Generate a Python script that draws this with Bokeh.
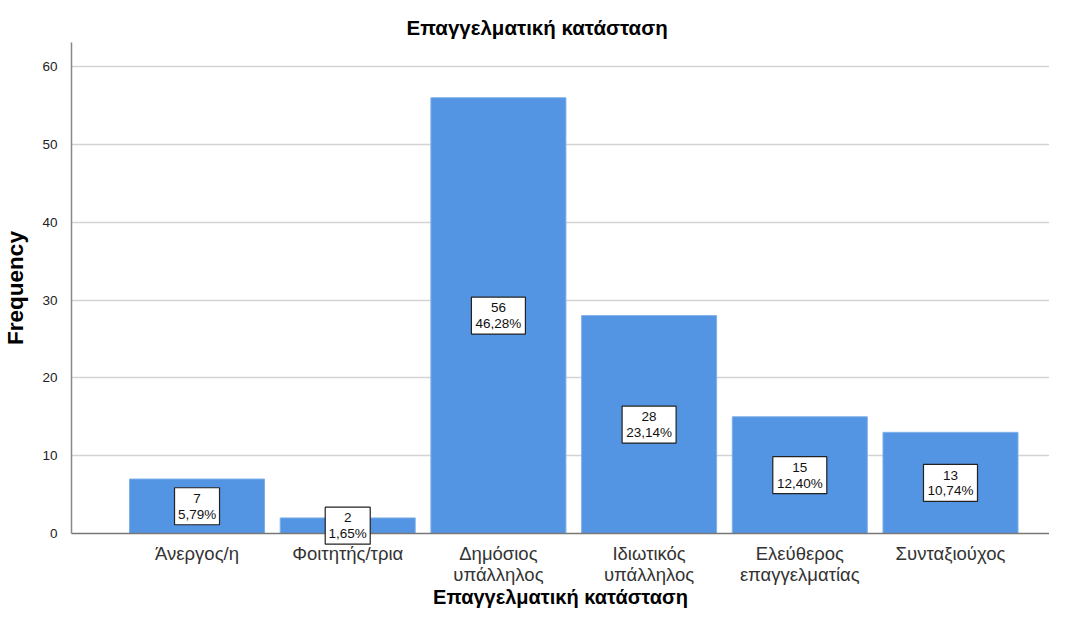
from bokeh.plotting import figure
from bokeh.models import Range1d, FixedTicker, ColumnDataSource
from bokeh.core.properties import value
from bokeh.embed import file_html
from bokeh.resources import INLINE

categories = ["Άνεργος/η", "Φοιτητής/τρια", "Δημόσιος\nυπάλληλος", "Ιδιωτικός\nυπάλληλος",
              "Ελεύθερος\nεπαγγελματίας", "Συνταξιούχος"]
counts = [7, 2, 56, 28, 15, 13]
percents = ["5,79%", "1,65%", "46,28%", "23,14%", "12,40%", "10,74%"]
y_ticks = [0, 10, 20, 30, 40, 50, 60]

FONT = "Liberation Sans"
xs = list(range(len(categories)))

p = figure(width=1049, height=610, output_backend="svg", toolbar_location=None,
           x_range=Range1d(-0.833, 5.657), y_range=Range1d(0, 63.1),
           min_border_left=0, min_border_right=0, min_border_top=0, min_border_bottom=0)

p.title.text = "Επαγγελματική κατάσταση"
p.title.text_font = FONT
p.title.text_font_size = "20.5px"
p.title.text_font_style = "bold"
p.title.align = "left"
p.title.offset = 335
p.title.padding = dict(left=0, right=0, top=9, bottom=0)
p.title.standoff = 8
p.title.text_color = "#000000"

p.outline_line_color = None
p.background_fill_color = "white"
p.border_fill_color = "white"

p.xgrid.grid_line_color = None
p.ygrid.grid_line_color = "#d3d3d3"
p.ygrid.grid_line_width = 1.5
p.ygrid.ticker = FixedTicker(ticks=y_ticks)

p.vbar(x=xs, top=counts, bottom=0, width=0.896,
       fill_color="#5394E3", line_color="#7fb0ea", line_width=1)

src = ColumnDataSource(dict(x=xs, mid=[c / 2 for c in counts],
                            lab=[f"{c}\n{pc}" for c, pc in zip(counts, percents)],
                            bw=[9 * max(len(str(c)), len(pc)) for c, pc in zip(counts, percents)]))
r1 = p.rect(x="x", y="mid", width="bw", height=37, width_units="screen", height_units="screen",
            source=src, fill_color="white", line_color="#222222", line_width=1.2)
r2 = p.text(x="x", y="mid", text="lab", source=src, text_align="center", text_baseline="middle",
            text_font=value(FONT), text_font_size="13.5px", text_color="#111111",
            text_line_height=1.05)
r1.level = "overlay"
r2.level = "overlay"

# y axis
p.yaxis.ticker = FixedTicker(ticks=y_ticks)
p.yaxis.axis_label = "Frequency"
p.yaxis.axis_label_text_font = FONT
p.yaxis.axis_label_text_font_size = "22.5px"
p.yaxis.axis_label_text_font_style = "bold"
p.yaxis.axis_label_text_color = "#000000"
p.yaxis.axis_label_standoff = 11
p.yaxis.major_label_text_font = FONT
p.yaxis.major_label_text_font_size = "13.5px"
p.yaxis.major_label_text_color = "#222222"
p.yaxis.major_label_standoff = 8
p.yaxis.major_tick_line_color = None
p.yaxis.minor_tick_line_color = None
p.yaxis.axis_line_color = "#888888"
p.yaxis.axis_line_width = 1.5

# x axis
p.xaxis.ticker = FixedTicker(ticks=xs)
p.xaxis.major_label_overrides = {i: c for i, c in zip(xs, categories)}
p.xaxis.axis_label = "Επαγγελματική κατάσταση"
p.xaxis.axis_label_text_font = FONT
p.xaxis.axis_label_text_font_size = "20px"
p.xaxis.axis_label_text_font_style = "bold"
p.xaxis.axis_label_text_color = "#000000"
p.xaxis.axis_label_standoff = -2
p.xaxis.major_label_text_font = FONT
p.xaxis.major_label_text_font_size = "18.5px"
p.xaxis.major_label_text_line_height = 1.0
p.xaxis.major_label_text_color = "#333333"
p.xaxis.major_label_standoff = 3
p.xaxis.major_tick_line_color = None
p.xaxis.minor_tick_line_color = None
p.xaxis.axis_line_color = "#777777"
p.xaxis.axis_line_width = 1.5

open("out.html", "w").write(file_html(p, INLINE))
